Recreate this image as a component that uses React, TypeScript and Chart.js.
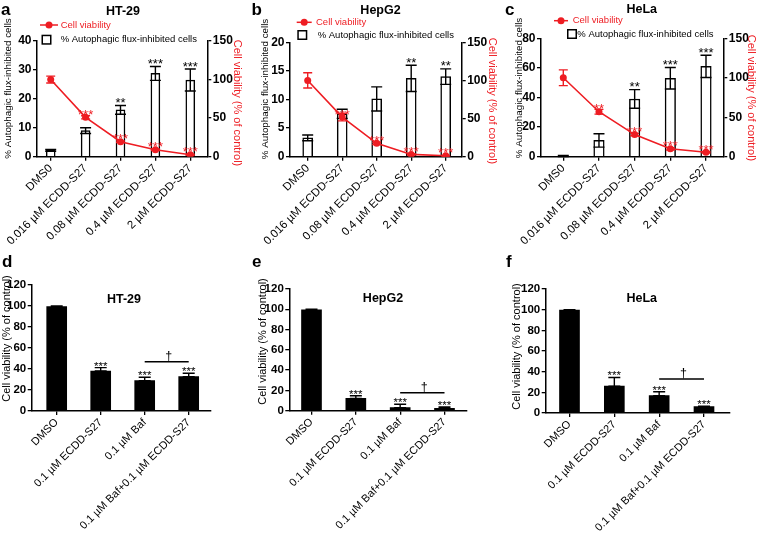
import React, { useEffect, useRef } from 'react'
import { Chart, registerables } from 'chart.js'

Chart.register(...registerables)

const FONT = '"Liberation Sans", Arial, Helvetica, sans-serif'
const RED = '#ee1d23'

Chart.defaults.font.family = FONT
Chart.defaults.color = '#000'

// categories
const doseLabels = ['DMS0', '0.016 µM ECDD-S27', '0.08 µM ECDD-S27', '0.4 µM ECDD-S27', '2 µM ECDD-S27']
const bafLabels = ['DMSO', '0.1 µM ECDD-S27', '0.1 µM Baf', '0.1 µM Baf+0.1 µM ECDD-S27']

// a - HT-29
const ht29Flux = [2.2, 9.0, 16.2, 28.8, 26.5]
const ht29FluxErr = [0.3, 1.0, 1.5, 2.4, 3.8]
const ht29Viability = [100, 51, 19.5, 9, 2.5]
const ht29ViabilityErr = [4.5, 2, 1, 1, 0.8]
const ht29FluxStars = ['', '', '**', '***', '***']
const ht29ViabilityStars = ['', '***', '***', '***', '***']

// b - HepG2
const hepg2Flux = [3.3, 7.5, 10.1, 13.7, 14.0]
const hepg2FluxErr = [0.5, 0.8, 2.1, 2.3, 1.35]
const hepg2Viability = [100, 52, 17.5, 3, 1.3]
const hepg2ViabilityErr = [10, 5, 1.5, 0.8, 0.5]
const hepg2FluxStars = ['', '', '', '**', '**']
const hepg2ViabilityStars = ['', '***', '***', '***', '***']

// c - HeLa
const helaFlux = [0.5, 11, 39, 53, 61]
const helaFluxErr = [0.4, 4.5, 6.3, 7.3, 7.5]
const helaViability = [100, 57, 28, 10, 5.6]
const helaViabilityErr = [10, 3, 1.5, 1.5, 1]
const helaFluxStars = ['', '', '**', '***', '***']
const helaViabilityStars = ['', '**', '***', '***', '***']

// d-f - bafilomycin combination
const ht29Baf = [99.5, 38.1, 28.9, 32.7]
const ht29BafErr = [0.5, 3.2, 3.2, 3.2]
const hepg2Baf = [99.5, 12.2, 3, 2.3]
const hepg2BafErr = [0.5, 2.6, 3.3, 1.3]
const helaBaf = [99.5, 26, 16.8, 6.1]
const helaBafErr = [0.5, 8.4, 3.8, 0.6]
const bafStars = ['', '***', '***', '***']
const daggerLevels = [47, 17.7, 32.9]

type Box = { x: number; y: number; w: number; h: number }
type Area = { l: number; t: number; r: number; b: number }

interface TopSpec {
  letter: string
  title: string
  box: Box
  area: Area
  first: number
  last: number
  fluxMax: number
  fluxStep: number
  flux: number[]
  fluxErr: number[]
  fluxStars: string[]
  viability: number[]
  viabilityErr: number[]
  viabilityStars: string[]
  barWidth: number
  letterAt: [number, number]
  titleAt: [number, number]
  legendLine: [number, number, number]
  legendSquare: [number, number]
  legendText: [number, number]
  leftTitleAt: [number, number]
  rightTitleAt: [number, number]
}

interface BottomSpec {
  letter: string
  title: string
  box: Box
  area: Area
  first: number
  last: number
  values: number[]
  errors: number[]
  dagger: number
  letterAt: [number, number]
  titleAt: [number, number]
  leftTitleAt: [number, number]
}

const topSpecs: TopSpec[] = [
  {
    letter: 'a', title: 'HT-29',
    box: { x: 0, y: 0, w: 250, h: 268 }, area: { l: 37, t: 41, r: 207.3, b: 156.7 },
    first: 50.7, last: 190.3, fluxMax: 40, fluxStep: 10,
    flux: ht29Flux, fluxErr: ht29FluxErr, fluxStars: ht29FluxStars,
    viability: ht29Viability, viabilityErr: ht29ViabilityErr, viabilityStars: ht29ViabilityStars,
    barWidth: 9, letterAt: [1, 15], titleAt: [123, 14.5],
    legendLine: [40, 58, 25], legendSquare: [46.5, 39.7], legendText: [60.7, 60.7],
    leftTitleAt: [8.3, 88.5], rightTitleAt: [237.3, 103],
  },
  {
    letter: 'b', title: 'HepG2',
    box: { x: 250, y: 0, w: 250, h: 268 }, area: { l: 290, t: 42.3, r: 461.7, b: 156.7 },
    first: 307.7, last: 445.7, fluxMax: 20, fluxStep: 5,
    flux: hepg2Flux, fluxErr: hepg2FluxErr, fluxStars: hepg2FluxStars,
    viability: hepg2Viability, viabilityErr: hepg2ViabilityErr, viabilityStars: hepg2ViabilityStars,
    barWidth: 10, letterAt: [251.5, 15], titleAt: [380.5, 14.3],
    legendLine: [296.7, 311.7, 22.3], legendSquare: [302.3, 35], legendText: [316, 317.7],
    leftTitleAt: [265, 89], rightTitleAt: [491.7, 101],
  },
  {
    letter: 'c', title: 'HeLa',
    box: { x: 500, y: 0, w: 257, h: 268 }, area: { l: 541, t: 38.3, r: 723.3, b: 156.7 },
    first: 563.3, last: 706, fluxMax: 80, fluxStep: 20,
    flux: helaFlux, fluxErr: helaFluxErr, fluxStars: helaFluxStars,
    viability: helaViability, viabilityErr: helaViabilityErr, viabilityStars: helaViabilityStars,
    barWidth: 10.5, letterAt: [505, 15], titleAt: [641.7, 13.3],
    legendLine: [554, 568, 20.7], legendSquare: [572, 34], legendText: [572.7, 577.3],
    leftTitleAt: [519.5, 88], rightTitleAt: [751, 98],
  },
]

const bottomSpecs: BottomSpec[] = [
  {
    letter: 'd', title: 'HT-29',
    box: { x: 0, y: 250, w: 250, h: 283 }, area: { l: 31.7, t: 285, r: 211, b: 411 },
    first: 56.7, last: 188.7, values: ht29Baf, errors: ht29BafErr, dagger: daggerLevels[0],
    letterAt: [2, 266.7], titleAt: [124, 303], leftTitleAt: [7.3, 338.5],
  },
  {
    letter: 'e', title: 'HepG2',
    box: { x: 250, y: 250, w: 250, h: 283 }, area: { l: 289.3, t: 289, r: 466.7, b: 410.7 },
    first: 311.5, last: 444.5, values: hepg2Baf, errors: hepg2BafErr, dagger: daggerLevels[1],
    letterAt: [252, 266.7], titleAt: [383, 301.7], leftTitleAt: [263.3, 341.5],
  },
  {
    letter: 'f', title: 'HeLa',
    box: { x: 500, y: 250, w: 257, h: 283 }, area: { l: 545.7, t: 289, r: 730, b: 413 },
    first: 569.5, last: 704, values: helaBaf, errors: helaBafErr, dagger: daggerLevels[2],
    letterAt: [506, 266.7], titleAt: [641.7, 301.7], leftTitleAt: [516.7, 346.5],
  },
]

function txt(
  ctx: CanvasRenderingContext2D, s: string, x: number, y: number, size: number,
  o: { bold?: boolean; color?: string; align?: CanvasTextAlign; base?: CanvasTextBaseline; rot?: number } = {}
) {
  ctx.save()
  ctx.font = `${o.bold ? 'bold ' : ''}${size}px ${FONT}`
  ctx.fillStyle = o.color || '#000'
  ctx.textAlign = o.align || 'left'
  ctx.textBaseline = o.base || 'alphabetic'
  ctx.translate(x, y)
  if (o.rot) ctx.rotate(o.rot)
  ctx.fillText(s, 0, 0)
  ctx.restore()
}

function whisker(ctx: CanvasRenderingContext2D, x: number, y1: number, y2: number, cap: number, color: string) {
  ctx.save()
  ctx.strokeStyle = color
  ctx.lineWidth = 1.4
  ctx.beginPath()
  ctx.moveTo(x, y1)
  ctx.lineTo(x, y2)
  ctx.moveTo(x - cap / 2, y1)
  ctx.lineTo(x + cap / 2, y1)
  ctx.moveTo(x - cap / 2, y2)
  ctx.lineTo(x + cap / 2, y2)
  ctx.stroke()
  ctx.restore()
}

function indexScale(labels: string[], box: Box, area: Area, first: number, last: number, size: number) {
  const n = labels.length
  const step = (last - first) / (n - 1)
  return {
    type: 'linear',
    min: -(first - area.l) / step,
    max: n - 1 + (area.r - last) / step,
    offset: false,
    afterBuildTicks: (s: any) => {
      s.ticks = labels.map((_, i) => ({ value: i }))
    },
    afterFit: (s: any) => {
      s.height = box.y + box.h - area.b
      s.paddingLeft = 0
      s.paddingRight = 0
    },
    ticks: {
      autoSkip: false, minRotation: 45, maxRotation: 45, padding: 1,
      font: { size }, color: '#000',
      callback: (v: any) => labels[v] ?? '',
    },
    grid: { display: true, drawOnChartArea: false, offset: false, color: '#000', lineWidth: 1.3, tickLength: 4 },
    border: { display: true, color: '#000', width: 1.5 },
  }
}

function valueScale(position: string, max: number, step: number, width: number, size: number) {
  return {
    type: 'linear',
    position,
    min: 0,
    max,
    ticks: { stepSize: step, font: { size, weight: 'bold' }, color: '#000', padding: 1.5 },
    grid: { display: true, drawOnChartArea: false, color: '#000', lineWidth: 1.3, tickLength: 4 },
    border: { display: true, color: '#000', width: 1.5 },
    afterFit: (s: any) => {
      s.width = width
      s.paddingTop = 0
      s.paddingBottom = 0
    },
  }
}

function topExtras(s: TopSpec) {
  const ox = s.box.x
  const oy = s.box.y
  return {
    id: 'topExtras',
    beforeDatasetDraw(chart: any, args: any) {
      if (args.index !== 1) return
      const ctx = chart.ctx
      const y1 = chart.scales.y1
      chart.getDatasetMeta(1).data.forEach((el: any, i: number) => {
        const hi = y1.getPixelForValue(s.viability[i] + s.viabilityErr[i])
        const lo = y1.getPixelForValue(s.viability[i] - s.viabilityErr[i])
        whisker(ctx, el.x, hi, lo, 9, RED)
      })
    },
    afterDatasetDraw(chart: any, args: any) {
      const ctx = chart.ctx
      if (args.index === 0) {
        const y = chart.scales.y
        chart.getDatasetMeta(0).data.forEach((el: any, i: number) => {
          const hi = y.getPixelForValue(s.flux[i] + s.fluxErr[i])
          const lo = y.getPixelForValue(s.flux[i] - s.fluxErr[i])
          whisker(ctx, el.x, hi, lo, 11, '#000')
          if (s.fluxStars[i]) txt(ctx, s.fluxStars[i], el.x, hi + 1.5, 13, { align: 'center' })
        })
      } else {
        chart.getDatasetMeta(1).data.forEach((el: any, i: number) => {
          if (s.viabilityStars[i]) txt(ctx, s.viabilityStars[i], el.x, el.y + 1.5, 13, { align: 'center', color: RED })
        })
      }
    },
    afterDraw(chart: any) {
      const ctx = chart.ctx
      txt(ctx, s.letter, s.letterAt[0] - ox, s.letterAt[1] - oy, 17, { bold: true })
      txt(ctx, s.title, s.titleAt[0] - ox, s.titleAt[1] - oy, 12.5, { bold: true, align: 'center' })

      // legend
      const [lx0, lx1, ly] = s.legendLine
      ctx.save()
      ctx.strokeStyle = RED
      ctx.fillStyle = RED
      ctx.lineWidth = 1.5
      ctx.beginPath()
      ctx.moveTo(lx0 - ox, ly - oy)
      ctx.lineTo(lx1 - ox, ly - oy)
      ctx.stroke()
      ctx.beginPath()
      ctx.arc((lx0 + lx1) / 2 - ox, ly - oy, 3.5, 0, Math.PI * 2)
      ctx.fill()
      ctx.strokeStyle = '#000'
      ctx.fillStyle = '#fff'
      const [sx, sy] = s.legendSquare
      ctx.fillRect(sx - 4.25 - ox, sy - 4.25 - oy, 8.5, 8.5)
      ctx.strokeRect(sx - 4.25 - ox, sy - 4.25 - oy, 8.5, 8.5)
      ctx.restore()
      txt(ctx, 'Cell viability', s.legendText[0] - ox, ly - oy, 9.5, { color: RED, base: 'middle' })
      txt(ctx, '% Autophagic flux-inhibited cells', s.legendText[1] - ox, sy - oy, 9.5, { base: 'middle' })

      // axis titles
      txt(ctx, '% Autophagic flux-inhibited cells', s.leftTitleAt[0] - ox, s.leftTitleAt[1] - oy, 9.8,
        { align: 'center', base: 'middle', rot: -Math.PI / 2 })
      txt(ctx, 'Cell viability (% of control)', s.rightTitleAt[0] - ox, s.rightTitleAt[1] - oy, 11,
        { align: 'center', base: 'middle', rot: Math.PI / 2, color: RED })
    },
  }
}

function bottomExtras(s: BottomSpec) {
  const ox = s.box.x
  const oy = s.box.y
  return {
    id: 'bottomExtras',
    afterDatasetDraw(chart: any) {
      const ctx = chart.ctx
      const y = chart.scales.y
      const els = chart.getDatasetMeta(0).data
      els.forEach((el: any, i: number) => {
        const hi = y.getPixelForValue(s.values[i] + s.errors[i])
        const lo = y.getPixelForValue(s.values[i])
        whisker(ctx, el.x, hi, lo, 12, '#000')
        if (bafStars[i]) txt(ctx, bafStars[i], el.x, hi + 2, 11.5, { align: 'center' })
      })
      const ly = y.getPixelForValue(s.dagger)
      const x0 = els[2].x
      const x1 = els[3].x
      ctx.save()
      ctx.strokeStyle = '#000'
      ctx.lineWidth = 1.5
      ctx.beginPath()
      ctx.moveTo(x0, ly)
      ctx.lineTo(x1, ly)
      ctx.stroke()
      ctx.restore()
      txt(ctx, '†', (x0 + x1) / 2 + 2, ly - 2, 12.5, { align: 'center' })
    },
    afterDraw(chart: any) {
      const ctx = chart.ctx
      txt(ctx, s.letter, s.letterAt[0] - ox, s.letterAt[1] - oy, 17, { bold: true })
      txt(ctx, s.title, s.titleAt[0] - ox, s.titleAt[1] - oy, 12.5, { bold: true, align: 'center' })
      txt(ctx, 'Cell viability (% of control)', s.leftTitleAt[0] - ox, s.leftTitleAt[1] - oy, 11,
        { align: 'center', base: 'middle', rot: -Math.PI / 2 })
    },
  }
}

const baseOptions = {
  responsive: false,
  maintainAspectRatio: false,
  animation: false,
  events: [],
  plugins: { legend: { display: false }, tooltip: { enabled: false }, title: { display: false } },
}

function topConfig(s: TopSpec): any {
  const { box, area } = s
  return {
    type: 'bar',
    data: {
      datasets: [
        {
          type: 'bar',
          data: s.flux.map((v, i) => ({ x: i, y: v })),
          backgroundColor: '#fff',
          borderColor: '#000',
          borderWidth: 1.5,
          barThickness: s.barWidth,
          yAxisID: 'y',
          order: 2,
        },
        {
          type: 'line',
          data: s.viability.map((v, i) => ({ x: i, y: v })),
          borderColor: RED,
          backgroundColor: RED,
          borderWidth: 1.6,
          pointRadius: 3.5,
          pointBorderWidth: 0,
          tension: 0,
          yAxisID: 'y1',
          order: 1,
        },
      ],
    },
    options: {
      ...baseOptions,
      layout: { padding: { top: area.t - box.y, left: 0, right: 0, bottom: 0 } },
      scales: {
        x: indexScale(doseLabels, box, area, s.first, s.last, 11.5),
        y: valueScale('left', s.fluxMax, s.fluxStep, area.l - box.x, 12),
        y1: valueScale('right', 150, 50, box.x + box.w - area.r, 12),
      },
    },
    plugins: [topExtras(s)],
  }
}

function bottomConfig(s: BottomSpec): any {
  const { box, area } = s
  return {
    type: 'bar',
    data: {
      datasets: [
        {
          data: s.values.map((v, i) => ({ x: i, y: v })),
          backgroundColor: '#000',
          borderWidth: 0,
          barThickness: 20,
        },
      ],
    },
    options: {
      ...baseOptions,
      layout: { padding: { top: area.t - box.y, left: 0, right: box.x + box.w - area.r, bottom: 0 } },
      scales: {
        x: indexScale(bafLabels, box, area, s.first, s.last, 11),
        y: valueScale('left', 120, 20, area.l - box.x, 11.5),
      },
    },
    plugins: [bottomExtras(s)],
  }
}

function ChartCanvas({ box, make }: { box: Box; make: () => any }) {
  const ref = useRef<HTMLCanvasElement>(null)

  useEffect(() => {
    if (!ref.current) return
    const chart = new Chart(ref.current, make())
    return () => chart.destroy()
  }, [])

  return (
    <canvas
      ref={ref}
      width={box.w}
      height={box.h}
      style={{ position: 'absolute', left: box.x, top: box.y, width: box.w, height: box.h }}
    />
  )
}

export default function App() {
  return (
    <div style={{ position: 'fixed', left: 0, top: 0, width: 757, height: 533, background: '#fff', overflow: 'hidden' }}>
      {topSpecs.map(s => (
        <ChartCanvas key={s.letter} box={s.box} make={() => topConfig(s)} />
      ))}
      {bottomSpecs.map(s => (
        <ChartCanvas key={s.letter} box={s.box} make={() => bottomConfig(s)} />
      ))}
    </div>
  )
}
